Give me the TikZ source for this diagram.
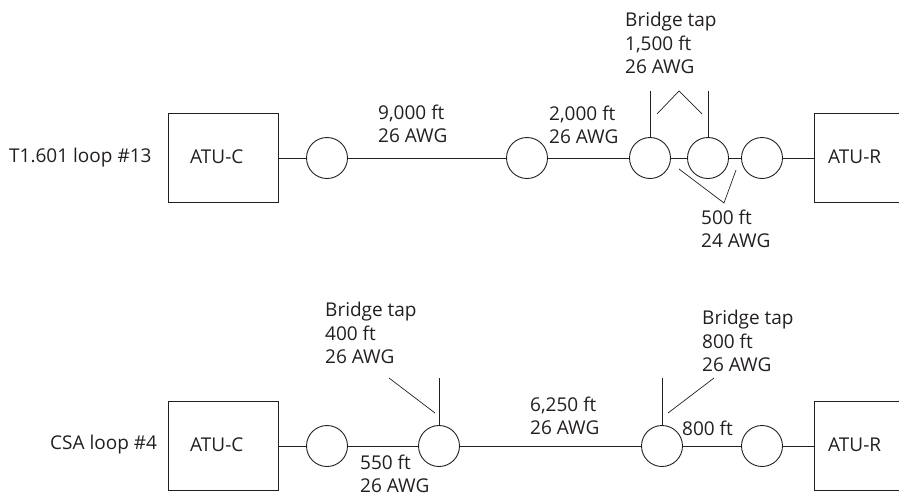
\documentclass[tikz,border=0pt]{standalone}
\usepackage{fontspec}
\setmainfont{Open Sans}
\usepackage{xcolor}
\usepackage{tikz}
\definecolor{inkgrey}{RGB}{35,31,32}
\tikzset{
  atubox/.style={draw=inkgrey,line width=0.9pt,minimum width=110pt,minimum height=89.5pt,inner sep=0pt},
  joint/.style={circle,draw=inkgrey,line width=0.9pt,minimum size=41pt,inner sep=0pt},
  wire/.style={draw=inkgrey,line width=0.9pt},
  leader/.style={draw=inkgrey,line width=0.7pt},
  note/.style={anchor=west,align=left,inner sep=0pt,text=inkgrey,font=\fontsize{19}{23.5}\selectfont},
}
\begin{document}
\begin{tikzpicture}[x=1pt,y=-1pt]
  \clip (0,0) rectangle (899,496);
  % T1.601 loop, top row
  \node[atubox] (boxCa) at (223,158) {};
  \node[atubox] (boxRa) at (869,158) {};
  \node[joint] (ja) at (327,158) {};
  \node[joint] (jb) at (527,158) {};
  \node[joint] (jc) at (650,158) {};
  \node[joint] (jd) at (708,158) {};
  \node[joint] (je) at (762,158) {};
  \draw[wire] (boxCa) -- (ja);
  \draw[wire] (ja) -- (jb);
  \draw[wire] (jb) -- (jc);
  \draw[wire] (jc) -- (jd);
  \draw[wire] (jd) -- (je);
  \draw[wire] (je) -- (boxRa);
  \coordinate (tapc) at (650,91);
  \coordinate (tapd) at (708,91);
  \draw[wire] (jc) -- (tapc);
  \draw[wire] (jd) -- (tapd);
  \draw[leader] (657,114) -- (679,91) -- (702,114);
  \draw[leader] (679,169) -- (724,203) -- (736,170);
  \node[note] (looptop) at (9,158) {T1.601 loop \#13};
  \node[note] (atuCa) at (190,157) {ATU-C};
  \node[note] (atuRa) at (828,157) {ATU-R};
  \node[note] (lena) at (378,124) {9,000 ft\\26 AWG};
  \node[note] (lenb) at (549,125) {2,000 ft\\26 AWG};
  \node[note] (tapa) at (625,43) {Bridge tap\\1,500 ft\\26 AWG};
  \node[note] (lenc) at (701,229) {500 ft\\24 AWG};
  % CSA loop, bottom row
  \node[atubox] (boxCb) at (223,446) {};
  \node[atubox] (boxRb) at (869,446) {};
  \node[joint] (jf) at (327,446) {};
  \node[joint] (jg) at (439,446) {};
  \node[joint] (jh) at (662,446) {};
  \node[joint] (ji) at (762,446) {};
  \draw[wire] (boxCb) -- (jf);
  \draw[wire] (jf) -- (jg);
  \draw[wire] (jg) -- (jh);
  \draw[wire] (jh) -- (ji);
  \draw[wire] (ji) -- (boxRb);
  \coordinate (tapg) at (439,378);
  \coordinate (taph) at (662,378);
  \draw[wire] (jg) -- (tapg);
  \draw[wire] (jh) -- (taph);
  \draw[leader] (389,378) -- (435,413);
  \draw[leader] (668,413) -- (714,378);
  \node[note] (loopbot) at (50,445) {CSA loop \#4};
  \node[note] (atuCb) at (190,445) {ATU-C};
  \node[note] (atuRb) at (828,445) {ATU-R};
  \node[note] (tapb) at (325,333) {Bridge tap\\400 ft\\26 AWG};
  \node[note] (lend) at (530,416) {6,250 ft\\26 AWG};
  \node[note] (lene) at (360,474) {550 ft\\26 AWG};
  \node[note] (tape) at (702,341) {Bridge tap\\800 ft\\26 AWG};
  \node[note] (lenf) at (682,428) {800 ft};
\end{tikzpicture}
\end{document}
